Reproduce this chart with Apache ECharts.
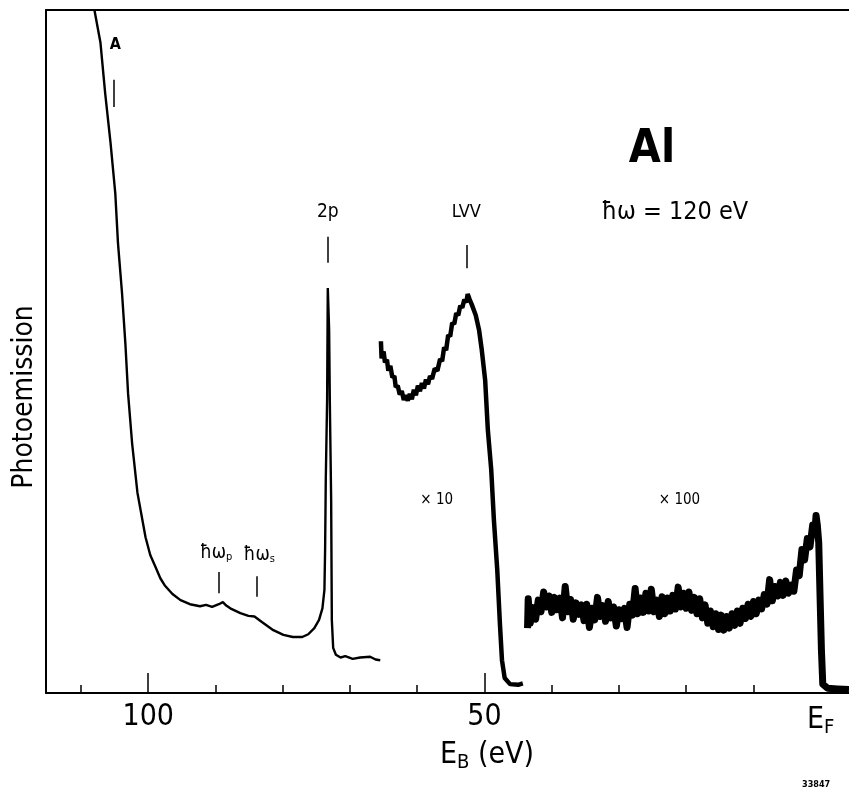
<!DOCTYPE html>
<html>
<head>
<meta charset="utf-8">
<script src="https://cdn.jsdelivr.net/npm/echarts@6/dist/echarts.min.js"></script>
<style>
html, body { margin: 0; padding: 0; background: #fff; }
#content { width: 849px; height: 794px; }
</style>
</head>
<body>
<div id="content"></div>
<script>
// binding energy (eV) and photoemission (arb. units, 0..100)
var mainE = [108.0, 107.1, 106.4, 105.6, 104.9, 104.5, 103.9, 103.4, 103.0, 102.4, 101.6, 100.4, 99.7, 98.9, 98.2, 97.5, 96.4, 95.2, 93.8, 92.3, 91.4, 90.5, 89.5, 88.9, 88.4, 87.8, 86.3, 85.1, 84.2, 83.1, 81.4, 79.9, 78.5, 77.1, 76.2, 75.3, 74.6, 74.1, 73.8, 73.7, 73.6, 73.4, 73.3, 73.1, 73.0, 72.8, 72.7, 72.5, 72.1, 71.4, 70.7, 69.6, 68.5, 67.0, 66.2, 65.5];
var mainI = [100, 95.2, 87.8, 80.5, 73.2, 65.9, 58.6, 51.2, 43.9, 36.6, 29.3, 22.8, 20.2, 18.4, 16.8, 15.7, 14.5, 13.6, 13.0, 12.7, 12.9, 12.6, 13.0, 13.3, 12.8, 12.4, 11.7, 11.3, 11.2, 10.4, 9.2, 8.5, 8.2, 8.2, 8.6, 9.5, 10.7, 12.4, 15.1, 20.9, 31.2, 42.9, 59.3, 53.1, 42.9, 28.3, 10.7, 6.6, 5.6, 5.2, 5.4, 5.0, 5.2, 5.3, 4.9, 4.8];

// LVV region, x10
var x10E = [65.4, 65.3, 65.0, 64.8, 64.5, 64.3, 64.0, 63.7, 63.4, 63.2, 62.9, 62.6, 62.3, 62.0, 61.7, 61.4, 61.1, 60.8, 60.5, 60.2, 59.9, 59.6, 59.3, 59.0, 58.7, 58.4, 58.1, 57.8, 57.4, 57.0, 56.6, 56.3, 56.0, 55.7, 55.4, 55.1, 54.8, 54.5, 54.2, 53.9, 53.6, 53.3, 53.0, 52.7, 52.5, 52.2, 51.9, 51.3, 50.8, 50.4, 49.9, 49.5, 49.0, 48.6, 48.1, 47.7, 47.4, 47.0, 46.2, 45.0, 44.3];
var x10I = [51.5, 49.0, 50.0, 48.4, 48.8, 47.2, 47.9, 46.2, 46.4, 44.8, 45.0, 43.7, 44.2, 42.9, 43.6, 42.8, 43.8, 43.0, 44.4, 43.6, 45.0, 44.2, 45.4, 44.6, 45.9, 45.2, 46.4, 46.0, 47.5, 47.2, 48.9, 48.6, 50.6, 50.2, 52.4, 52.2, 54.2, 54.0, 55.6, 55.3, 56.7, 56.4, 57.6, 57.2, 58.4, 57.6, 56.9, 55.3, 53.1, 50.2, 45.8, 38.5, 32.7, 25.3, 18.0, 10.0, 4.8, 2.2, 1.3, 1.2, 1.4];

// valence band region, x100
var x100E = [43.6, 43.5, 43.2, 42.8, 42.4, 42.0, 41.6, 41.2, 40.8, 40.4, 40.0, 39.6, 39.2, 38.8, 38.4, 38.0, 37.6, 37.2, 36.8, 36.4, 36.0, 35.6, 35.2, 34.8, 34.4, 34.0, 33.6, 33.2, 32.8, 32.4, 32.0, 31.6, 31.2, 30.8, 30.4, 30.0, 29.6, 29.2, 28.8, 28.4, 28.0, 27.6, 27.2, 26.8, 26.4, 26.0, 25.6, 25.2, 24.8, 24.4, 24.0, 23.6, 23.2, 22.8, 22.4, 22.0, 21.6, 21.2, 20.8, 20.4, 20.0, 19.6, 19.2, 18.8, 18.4, 18.0, 17.6, 17.2, 16.8, 16.4, 16.0, 15.6, 15.2, 14.8, 14.4, 14.0, 13.6, 13.2, 12.8, 12.4, 12.0, 11.6, 11.2, 10.8, 10.4, 10.0, 9.6, 9.2, 8.8, 8.4, 8.0, 7.6, 7.2, 6.8, 6.4, 6.0, 5.6, 5.2, 4.8, 4.4, 4.0, 3.6, 3.2, 2.8, 2.4, 2.0, 1.6, 1.2, 0.9, 0.7, 0.5, 0.3, 0.1, -0.1, -0.3, -1.0, -2.5, -4.2];
var x100I = [9.5, 13.8, 10.2, 12.5, 10.8, 13.6, 11.9, 14.8, 12.6, 14.2, 11.8, 14.0, 12.2, 13.9, 11.0, 15.6, 11.9, 13.7, 10.8, 13.2, 11.5, 12.9, 10.6, 13.0, 9.6, 12.4, 10.7, 14.0, 11.2, 12.8, 10.5, 13.4, 11.0, 12.6, 9.8, 12.2, 10.9, 12.4, 9.6, 13.0, 11.4, 15.3, 11.6, 13.9, 11.8, 14.6, 12.0, 15.2, 11.9, 13.6, 11.2, 14.1, 11.6, 13.9, 12.0, 14.3, 12.3, 15.5, 12.6, 14.6, 12.4, 14.8, 12.1, 14.0, 11.6, 13.8, 11.0, 12.9, 10.2, 12.0, 9.7, 11.6, 9.3, 11.4, 9.2, 11.2, 9.5, 11.6, 9.9, 12.0, 10.2, 12.4, 10.9, 13.0, 11.2, 13.4, 11.6, 13.6, 12.3, 14.4, 13.0, 16.6, 13.5, 15.6, 14.2, 16.2, 14.3, 16.4, 14.6, 15.8, 14.9, 18.0, 17.2, 21.0, 19.5, 22.6, 21.4, 24.6, 23.2, 26.0, 24.5, 22.0, 14.0, 6.3, 1.3, 0.7, 0.6, 0.5];

// feature markers: energy, top and bottom of the short vertical bar
var markE = [105.2, 73.3, 52.7, 89.5, 83.8];
var markTop = [89.8, 66.8, 65.6, 17.7, 17.1];
var markBot = [85.8, 63.0, 62.2, 14.6, 14.1];

// text annotations
var noteE = [104.9, 73.3, 52.7, 89.9, 83.5, 57.1, 21.0, 25.1, 21.7];
var noteI = [94.9, 70.4, 70.4, 20.5, 20.2, 28.3, 28.3, 79.5, 70.4];
var noteText = ['A', '2p', 'LVV', 'ħω{s|p}', 'ħω{s|s}', '× 10', '× 100', 'Al', 'ħω = 120 eV'];
var noteSize = [16, 19, 18, 19, 19, 15, 15, 46, 25];

var tickValues = [110, 100, 90, 80, 70, 60, 50, 40, 30, 20, 10];
var longTickValues = [100, 50];
var labelValues = [100, 50, 0];

var fontFam = "'DejaVu Sans Condensed', 'DejaVu Sans', sans-serif";

function zip(a, b) {
    var out = [];
    for (var i = 0; i < a.length; i++) {
        out.push([a[i], b[i]]);
    }
    return out;
}

var markLines = [];
for (var i = 0; i < markE.length; i++) {
    markLines.push([{ coord: [markE[i], markTop[i]] }, { coord: [markE[i], markBot[i]] }]);
}

var notes = [];
for (var i = 0; i < noteE.length; i++) {
    notes.push({
        value: [noteE[i], noteI[i]],
        label: {
            show: true,
            position: 'inside',
            color: '#000',
            fontFamily: fontFam,
            formatter: noteText[i],
            fontSize: noteSize[i],
            fontWeight: (noteText[i] == 'Al' || noteText[i] == 'A') ? 'bold' : 'normal',
            rich: {
                s: { fontSize: 11, fontFamily: fontFam, color: '#000', verticalAlign: 'bottom', padding: [8, 0, 0, 0] }
            }
        }
    });
}

var myChart = echarts.init(document.getElementById('content'));

var xCommon = {
    type: 'value',
    min: -4.2,
    max: 115.2,
    inverse: true,
    splitLine: { show: false }
};

var option = {
    animation: false,
    backgroundColor: '#fff',
    grid: { left: 46, right: 0, top: 10, bottom: 101 },
    xAxis: [
        echarts.util.merge({
            position: 'bottom',
            axisLine: { onZero: false, lineStyle: { color: '#000', width: 2 } },
            axisTick: { inside: true, length: 8, customValues: tickValues, lineStyle: { color: '#000', width: 1.5 } },
            axisLabel: {
                customValues: labelValues,
                margin: 9,
                color: '#000',
                fontSize: 30,
                fontFamily: fontFam,
                formatter: function(v) {
                    return v == 0 ? '{e|E}{f|F}' : String(v);
                },
                rich: {
                    e: { fontSize: 30, fontFamily: fontFam, color: '#000' },
                    f: { fontSize: 20, fontFamily: fontFam, color: '#000', verticalAlign: 'bottom', padding: [16, 0, 0, 0] }
                }
            }
        }, xCommon, true),
        echarts.util.merge({
            position: 'bottom',
            axisLine: { show: false, onZero: false },
            axisTick: { inside: true, length: 20, customValues: longTickValues, lineStyle: { color: '#000', width: 1.5 } },
            axisLabel: { show: false }
        }, xCommon, true),
        echarts.util.merge({
            position: 'top',
            axisLine: { onZero: false, lineStyle: { color: '#000', width: 2 } },
            axisTick: { show: false },
            axisLabel: { show: false }
        }, xCommon, true)
    ],
    yAxis: {
        type: 'value',
        min: 0,
        max: 100,
        axisLine: { show: true, onZero: false, lineStyle: { color: '#000', width: 2 } },
        axisTick: { show: false },
        axisLabel: { show: false },
        splitLine: { show: false }
    },
    series: [
        {
            name: 'main',
            type: 'line',
            data: zip(mainE, mainI),
            showSymbol: false,
            lineStyle: { color: '#000', width: 2.4 },
            markLine: {
                silent: true,
                symbol: ['none', 'none'],
                label: { show: false },
                lineStyle: { color: '#000', width: 1.5, type: 'solid' },
                data: markLines
            }
        },
        {
            name: 'x10',
            type: 'line',
            data: zip(x10E, x10I),
            showSymbol: false,
            lineStyle: { color: '#000', width: 4.5 }
        },
        {
            name: 'x100',
            type: 'line',
            data: zip(x100E, x100I),
            showSymbol: false,
            lineStyle: { color: '#000', width: 7, join: 'round' }
        },
        {
            name: 'notes',
            type: 'scatter',
            symbolSize: 0,
            data: notes,
            itemStyle: { color: '#000', opacity: 1 }
        }
    ],
    graphic: [
        {
            type: 'text',
            left: 440,
            top: 740,
            style: {
                text: '{e|E}{b|B}{e| (eV)}',
                rich: {
                    e: { fontSize: 30, fontFamily: fontFam, fill: '#000' },
                    b: { fontSize: 20, fontFamily: fontFam, fill: '#000', verticalAlign: 'bottom', padding: [16, 0, 0, 0] }
                }
            }
        },
        {
            type: 'text',
            x: 25,
            y: 397,
            rotation: Math.PI / 2,
            style: {
                text: 'Photoemission',
                fontSize: 28,
                fontFamily: fontFam,
                fill: '#000',
                align: 'center',
                verticalAlign: 'middle'
            }
        },
        {
            type: 'text',
            left: 802,
            top: 780,
            style: {
                text: '33847',
                fontSize: 9,
                fontWeight: 'bold',
                fontFamily: fontFam,
                fill: '#000'
            }
        }
    ]
};

myChart.setOption(option);
</script>
</body>
</html>
